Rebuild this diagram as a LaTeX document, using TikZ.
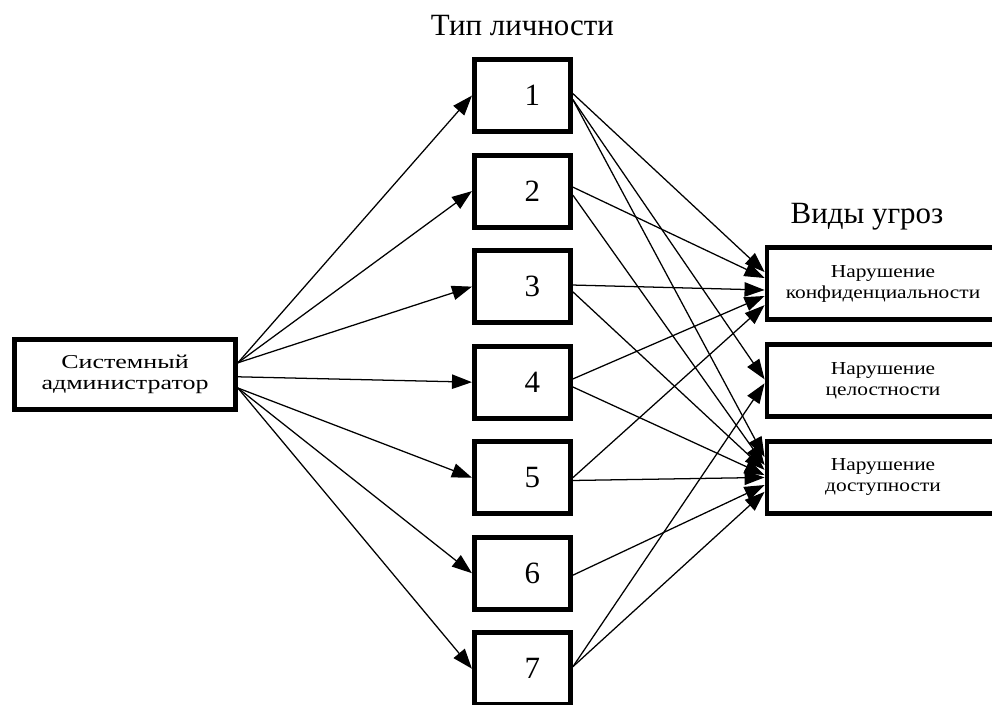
\documentclass[tikz,border=0pt]{standalone}
\usepackage{fontspec}
\setmainfont{Liberation Serif}
\newfontfamily\adminfont[FakeStretch=1.32]{Liberation Serif}
\newfontfamily\threatfont[FakeStretch=1.17]{Liberation Serif}
\usepackage{tikz}
\usetikzlibrary{arrows.meta,positioning}
\tikzset{
  adminbox/.style={draw, line width=3.5pt, minimum width=55.2mm, minimum height=17.5mm,
    align=center, font=\adminfont\fontsize{14}{14.5}\selectfont},
  typebox/.style={draw, line width=3.5pt, minimum width=24mm, minimum height=18mm,
    font=\fontsize{22}{26}\selectfont, execute at begin node={\hspace*{5mm}}},
  threatbox/.style={draw, line width=3.5pt, minimum width=58mm, minimum height=18mm,
    align=center, font=\threatfont\fontsize{13}{15}\selectfont},
  heading/.style={font=\fontsize{22}{26}\selectfont},
  flow/.style={-{Triangle[length=5mm, width=3.6mm]}, line width=0.9pt}
}
\begin{document}
\begin{tikzpicture}[node distance=4.65mm]
\useasboundingbox (0,0) rectangle (24.8,17.6);
\node[adminbox] (admin) at (3.125,8.24) {Системный\\администратор};
\node[typebox] (t1) at (13.06,15.21) {1};
\node[typebox, below=of t1] (t2) {2};
\node[typebox, below=of t2] (t3) {3};
\node[typebox, below=of t3] (t4) {4};
\node[typebox, below=of t4] (t5) {5};
\node[typebox, below=of t5] (t6) {6};
\node[typebox, below=of t6] (t7) {7};
\node[heading, above=4.2mm of t1] (typetitle) {Тип личности};
\node[threatbox] (conf) at (22.075,10.51) {Нарушение\\конфиденциальности};
\node[threatbox, below=5mm of conf] (integ) {Нарушение\\целостности};
\node[threatbox, below=5mm of integ] (avail) {Нарушение\\доступности};
\node[heading, above=2.4mm of conf, xshift=-4mm] (threattitle) {Виды угроз};

\draw[flow] ([yshift=2.9mm]admin.east) -- (t1.west);
\draw[flow] ([yshift=2.9mm]admin.east) -- (t2.west);
\draw[flow] ([yshift=2.9mm]admin.east) -- (t3.west);
\draw[flow] ([yshift=-0.6mm]admin.east) -- (t4.west);
\draw[flow] ([yshift=-3.4mm]admin.east) -- (t5.west);
\draw[flow] ([yshift=-3.4mm]admin.east) -- (t6.west);
\draw[flow] ([yshift=-3.4mm]admin.east) -- (t7.west);

\draw[flow] ([yshift=0.5mm]t1.east) -- ([yshift=2.9mm]conf.west);
\draw[flow] ([yshift=-1mm]t1.east) -- ([yshift=0.3mm]integ.west);
\draw[flow] ([yshift=-1mm]t1.east) -- ([yshift=5.1mm]avail.west);
\draw[flow] ([yshift=1mm]t2.east) -- ([yshift=1.4mm]conf.west);
\draw[flow] ([yshift=-1mm]t2.east) -- ([yshift=3.1mm]avail.west);
\draw[flow] ([yshift=0.4mm]t3.east) -- ([yshift=-1.6mm]conf.west);
\draw[flow] ([yshift=-1.3mm]t3.east) -- ([yshift=1.9mm]avail.west);
\draw[flow] ([yshift=0.8mm]t4.east) -- ([yshift=-3.1mm]conf.west);
\draw[flow] ([yshift=-1.2mm]t4.east) -- ([yshift=0.6mm]avail.west);
\draw[flow] (t5.east) -- ([yshift=-5.4mm]conf.west);
\draw[flow] ([yshift=-0.7mm]t5.east) -- (avail.west);
\draw[flow] ([yshift=-0.5mm]t6.east) -- ([yshift=-1.9mm]avail.west);
\draw[flow] ([yshift=0.5mm]t7.east) -- ([yshift=-0.7mm]integ.west);
\draw[flow] ([yshift=0.5mm]t7.east) -- ([yshift=-3.6mm]avail.west);
\end{tikzpicture}
\end{document}
